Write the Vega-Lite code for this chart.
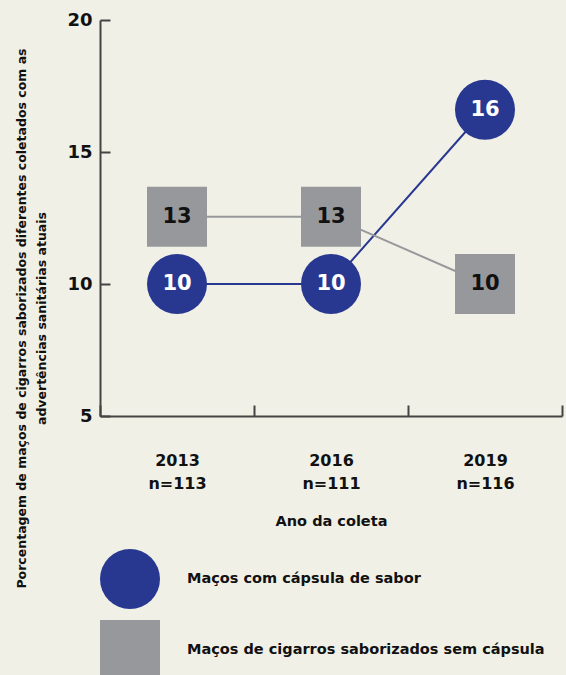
{
  "$schema": "https://vega.github.io/schema/vega-lite/v6.json",
  "autosize": {"type": "none"},
  "width": 462,
  "height": 396,
  "padding": {"left": 100, "top": 20, "right": 4, "bottom": 259},
  "background": "#f0f0e6",
  "config": {
    "view": {"stroke": null},
    "font": "DejaVu Sans",
    "axis": {
      "domainColor": "#444444",
      "domainWidth": 2,
      "tickColor": "#444444",
      "tickWidth": 2,
      "grid": false,
      "labelFont": "DejaVu Sans",
      "labelFontWeight": "bold",
      "labelColor": "#111111",
      "titleFont": "DejaVu Sans",
      "titleFontWeight": "bold",
      "titleColor": "#111111"
    },
    "legend": {
      "title": null,
      "orient": "none",
      "legendX": 0,
      "legendY": 529,
      "symbolSize": 3600,
      "symbolStrokeWidth": 0,
      "symbolOpacity": 1,
      "labelFontSize": 14.5,
      "labelFont": "DejaVu Sans",
      "labelFontWeight": "bold",
      "labelColor": "#111111",
      "labelLimit": 500,
      "labelOffset": 27,
      "rowPadding": 11
    }
  },
  "data": {
    "values": [
      {"ano": "2013", "serie": "Maços com cápsula de sabor", "valor": 10, "rotulo": "10"},
      {"ano": "2016", "serie": "Maços com cápsula de sabor", "valor": 10, "rotulo": "10"},
      {"ano": "2019", "serie": "Maços com cápsula de sabor", "valor": 16.6, "rotulo": "16"},
      {"ano": "2013", "serie": "Maços de cigarros saborizados sem cápsula", "valor": 12.55, "rotulo": "13"},
      {"ano": "2016", "serie": "Maços de cigarros saborizados sem cápsula", "valor": 12.55, "rotulo": "13"},
      {"ano": "2019", "serie": "Maços de cigarros saborizados sem cápsula", "valor": 10, "rotulo": "10"}
    ]
  },
  "encoding": {
    "x": {
      "field": "ano",
      "type": "nominal",
      "sort": ["2013", "2016", "2019"],
      "scale": {"paddingInner": 0, "paddingOuter": 0},
      "axis": {
        "title": "Ano da coleta",
        "labelAngle": 0,
        "tickBand": "extent",
        "tickSize": -11,
        "labelPadding": 47,
        "labelFontSize": 16,
        "labelLineHeight": 23,
        "labelExpr": "datum.label == '2013' ? ['2013', 'n=113'] : (datum.label == '2016' ? ['2016', 'n=111'] : (datum.label == '2019' ? ['2019', 'n=116'] : ''))",
        "titleFontSize": 14.5,
        "titlePadding": 23
      }
    },
    "y": {
      "field": "valor",
      "type": "quantitative",
      "scale": {"domain": [5, 20], "nice": false, "zero": false},
      "axis": {
        "values": [5, 10, 15, 20],
        "tickSize": -10,
        "labelPadding": 18,
        "labelFontSize": 18,
        "title": ["Porcentagem de maços de cigarros saborizados diferentes coletados com as", "advertências sanitárias atuais"],
        "titleFontSize": 12.5,
        "titleLineHeight": 20,
        "titleAngle": -90,
        "titleX": -85,
        "titleY": 298,
        "titleAlign": "center",
        "titleBaseline": "top"
      }
    }
  },
  "layer": [
    {
      "mark": {"type": "line", "strokeWidth": 2},
      "encoding": {
        "color": {
          "field": "serie",
          "type": "nominal",
          "scale": {"domain": ["Maços com cápsula de sabor", "Maços de cigarros saborizados sem cápsula"], "range": ["#283891", "#97989c"]}
        }
      }
    },
    {
      "mark": {"type": "point", "filled": true, "opacity": 1, "size": 3600},
      "encoding": {
        "color": {
          "field": "serie",
          "type": "nominal",
          "scale": {"domain": ["Maços com cápsula de sabor", "Maços de cigarros saborizados sem cápsula"], "range": ["#283891", "#97989c"]}
        },
        "shape": {
          "field": "serie",
          "type": "nominal",
          "scale": {"domain": ["Maços com cápsula de sabor", "Maços de cigarros saborizados sem cápsula"], "range": ["circle", "square"]}
        }
      }
    },
    {
      "mark": {"type": "text", "fontSize": 21, "fontWeight": "bold", "font": "DejaVu Sans", "baseline": "middle", "align": "center"},
      "encoding": {
        "text": {"field": "rotulo"},
        "color": {
          "condition": {"test": "datum.serie == 'Maços com cápsula de sabor'", "value": "#ffffff"},
          "value": "#111111"
        }
      }
    }
  ]
}
